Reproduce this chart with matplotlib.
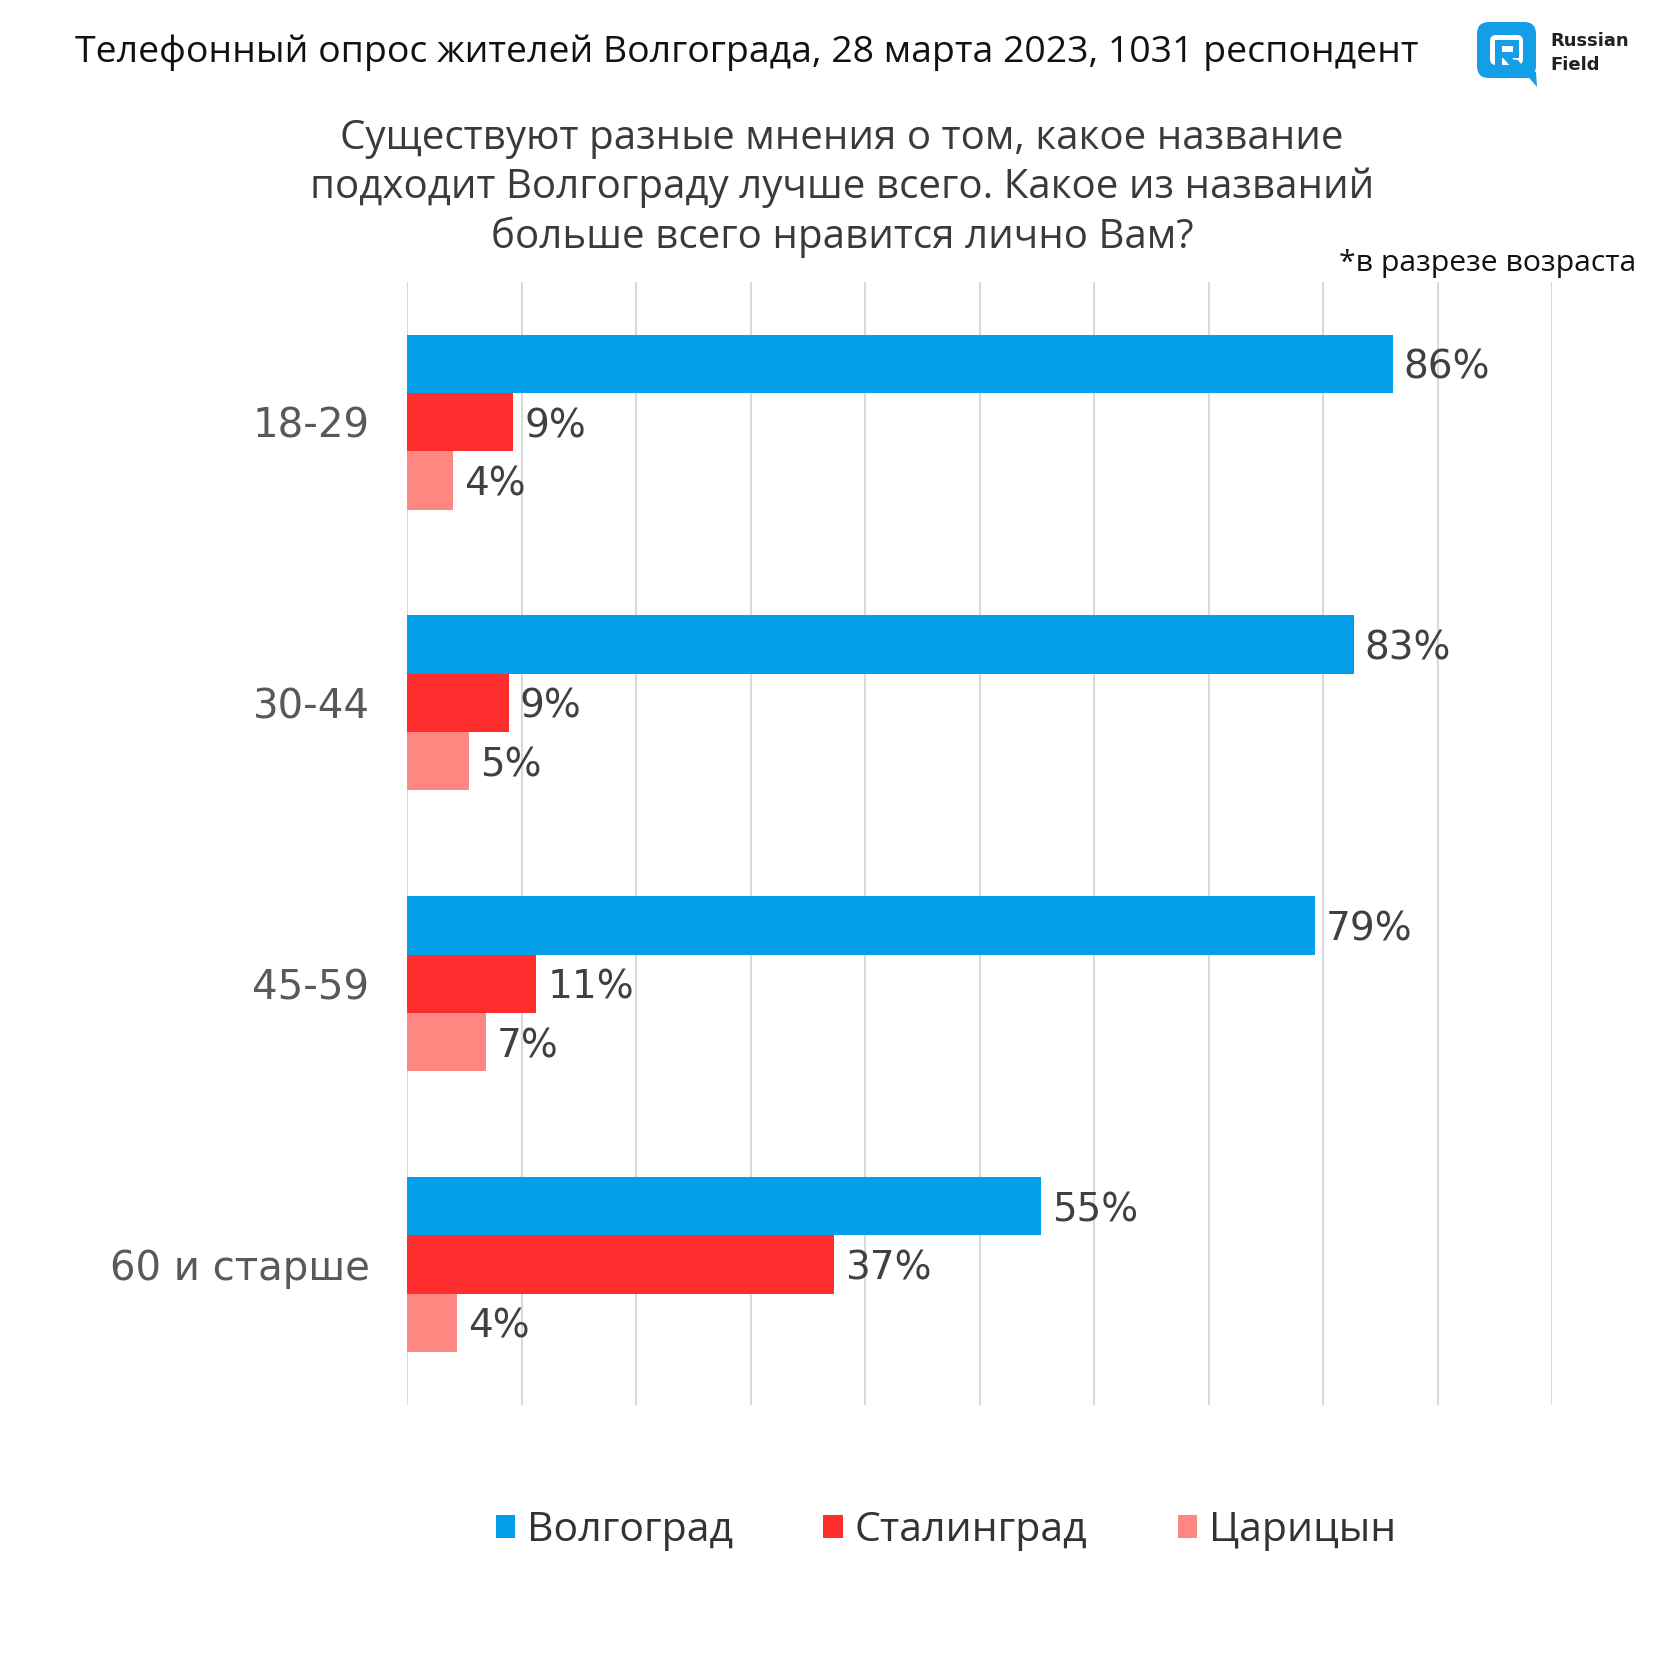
import matplotlib
matplotlib.use("Agg")
import matplotlib.pyplot as plt
import numpy as np
from matplotlib.patches import Patch, FancyBboxPatch, Rectangle, Polygon

# ---------------- data ----------------
categories = ["18-29", "30-44", "45-59", "60 и старше"]
series_names = ["Волгоград", "Сталинград", "Царицын"]
volgograd = [86.1, 82.7, 79.3, 55.4]
stalingrad = [9.3, 8.9, 11.3, 37.3]
tsaritsyn = [4.0, 5.4, 6.9, 4.4]
x_ticks = list(range(0, 101, 10))

title_line = "Телефонный опрос жителей Волгограда, 28 марта 2023, 1031 респондент"
question_lines = ["Существуют разные мнения о том, какое название",
                  "подходит Волгограду лучше всего. Какое из названий",
                  "больше всего нравится лично Вам?"]
note_text = "*в разрезе возраста"

colors = ["#039FE9", "#FF2E2E", "#FF8782"]
TITLE_FONT = ["Open Sans", "DejaVu Sans"]

W = H = 1680
fig = plt.figure(figsize=(16.8, 16.8), dpi=100)
fig.patch.set_facecolor("white")

ax = fig.add_axes([407 / W, 1 - 1405 / H, 1145 / W, (1405 - 281.7) / H])
y = np.arange(len(categories))
h = 0.2077
for i, (vals, c, name) in enumerate(zip([volgograd, stalingrad, tsaritsyn], colors, series_names)):
    off = (i - 1) * h
    bars = ax.barh(y + off, vals, height=h, color=c, label=name, zorder=3)
    for b, v in zip(bars, vals):
        ax.text(v + 0.95, b.get_y() + h / 2 + 0.014, f"{round(v)}%", va="center", ha="left",
                fontsize=28, color="#404040", family="DejaVu Sans", zorder=4)

ax.set_xlim(0, 100)
ax.set_ylim(3.5, -0.5)
ax.set_xticks(x_ticks)
ax.xaxis.grid(True, color="#d9d9d9", lw=1.5)
ax.set_axisbelow(True)
ax.tick_params(axis="x", length=0, labelbottom=False)
ax.set_yticks(y, categories)
ax.tick_params(axis="y", length=0, pad=27, labelsize=29, labelcolor="#595959")
for s in ax.spines.values():
    s.set_visible(False)

# ---------------- titles ----------------
fig.text(75 / W, 1 - 53 / H, title_line, ha="left", va="center", fontsize=26.9,
         color="#111111", family=TITLE_FONT)
for k, line in enumerate(question_lines):
    fig.text(842 / W, 1 - (139 + 49 * k) / H, line, ha="center", va="center",
             fontsize=29, color="#3a3a3a", family=TITLE_FONT)
fig.text(1636 / W, 1 - 264 / H, note_text, ha="right", va="center", fontsize=21.8,
         color="#111111", family=TITLE_FONT)

# ---------------- legend ----------------
handles = [Patch(facecolor=c, edgecolor="none") for c in colors]
fig.legend(handles, series_names, loc="center", bbox_to_anchor=(946 / W, 1 - 1531 / H),
           ncol=3, frameon=False, prop={"family": TITLE_FONT, "size": 29.5},
           labelcolor="#333333", handlelength=0.47, handleheight=0.47,
           handletextpad=0.3, columnspacing=2.2)

# ---------------- logo ----------------
lax = fig.add_axes([0, 0, 1, 1], zorder=10)
lax.set_xlim(0, W)
lax.set_ylim(H, 0)
lax.axis("off")
blue = "#129FE6"
lax.add_patch(FancyBboxPatch((1481, 26), 51, 48, boxstyle="round,pad=4,rounding_size=12",
                             facecolor=blue, edgecolor="none"))
lax.add_patch(FancyBboxPatch((1490, 35), 33, 30, boxstyle="round,pad=0,rounding_size=6",
                             facecolor="white", edgecolor="none"))
lax.add_patch(Rectangle((1495, 40), 7, 30, facecolor=blue, edgecolor="none"))
lax.add_patch(Rectangle((1495, 40), 24, 6, facecolor=blue, edgecolor="none"))
lax.add_patch(Rectangle((1495, 52), 24, 6, facecolor=blue, edgecolor="none"))
lax.add_patch(Rectangle((1513, 40), 6, 18, facecolor=blue, edgecolor="none"))
lax.add_patch(Polygon([[1503, 58], [1512, 58], [1537, 87], [1536, 72], [1527, 72], [1518, 60]],
                      closed=True, facecolor=blue, edgecolor="none"))
lax.add_patch(Polygon([[1503, 58], [1512, 58], [1530, 78], [1521, 78]],
                      closed=True, facecolor=blue, edgecolor="none"))
lax.text(1550, 41.5, "Russian", ha="left", va="center", fontsize=13, fontweight="bold",
         color="#222222", family=["DejaVu Sans"])
lax.text(1550, 64.5, "Field", ha="left", va="center", fontsize=13, fontweight="bold",
         color="#222222", family=["DejaVu Sans"])

fig.savefig("out.png", dpi=100, facecolor="white")
